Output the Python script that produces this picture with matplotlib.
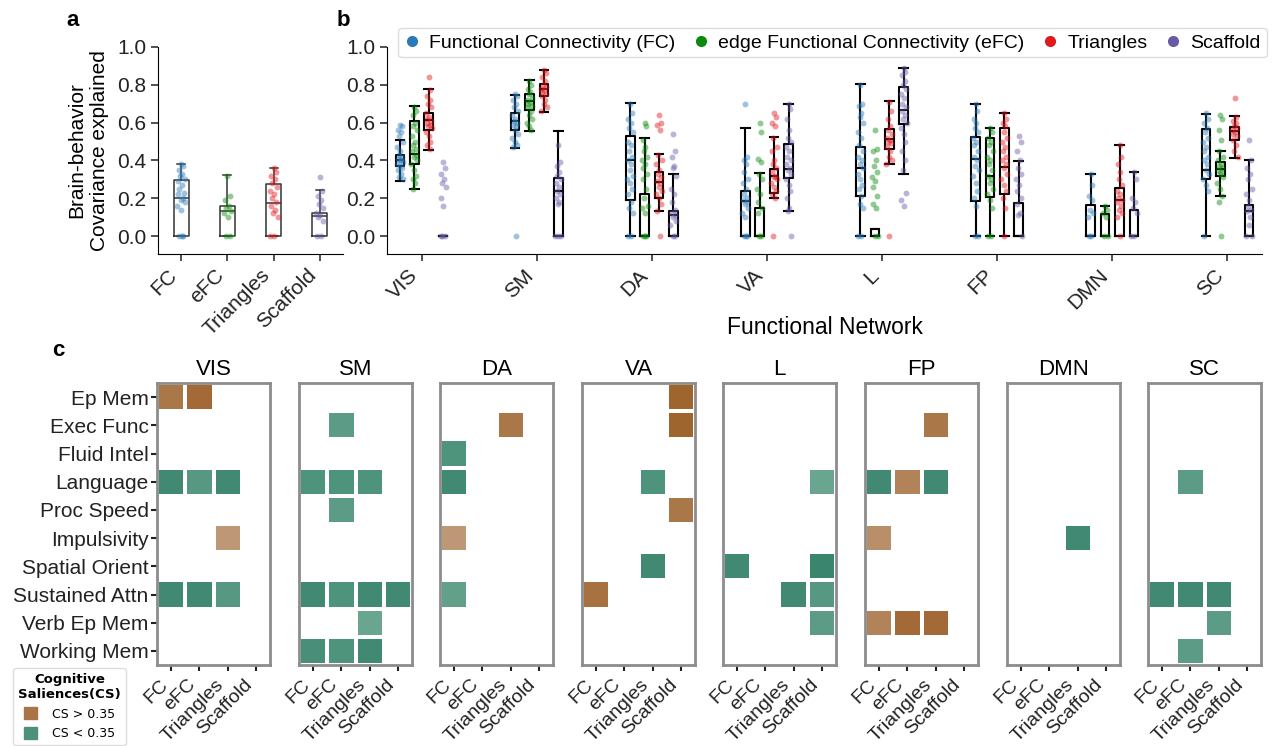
import numpy as np
import matplotlib
matplotlib.use("Agg")
import matplotlib.pyplot as plt
from matplotlib.colors import LinearSegmentedColormap
from matplotlib.patches import Patch
from matplotlib.lines import Line2D

plt.rcParams['font.family'] = ['Liberation Sans', 'DejaVu Sans']

# ---------------- data ----------------
methods = ["FC", "eFC", "Triangles", "Scaffold"]
method_names = ["Functional Connectivity (FC)", "edge Functional Connectivity (eFC)",
                "Triangles", "Scaffold"]
colors = ["#2a7ab9", "#0a8a0a", "#e0191f", "#6a5aa6"]
networks = ["VIS", "SM", "DA", "VA", "L", "FP", "DMN", "SC"]
behaviours = ["Ep Mem", "Exec Func", "Fluid Intel", "Language", "Proc Speed",
              "Impulsivity", "Spatial Orient", "Sustained Attn", "Verb Ep Mem", "Working Mem"]

# panel a: (whislo, q1, med, q3, whishi)
a_box = [(0.0, 0.0, 0.20, 0.297, 0.383),
         (0.0, 0.0, 0.133, 0.161, 0.323),
         (0.0, 0.0, 0.173, 0.276, 0.358),
         (0.0, 0.0, 0.108, 0.122, 0.243)]
a_pts = [[0.38, 0.37, 0.35, 0.33, 0.32, 0.30, 0.29, 0.27, 0.25, 0.23, 0.22, 0.20, 0.19, 0.18, 0.16, 0.14, 0, 0, 0],
         [0.32, 0.21, 0.19, 0.16, 0.15, 0.13, 0.12, 0.10, 0, 0],
         [0.36, 0.34, 0.32, 0.30, 0.28, 0.26, 0.24, 0.22, 0.20, 0.18, 0.16, 0.14, 0.12, 0.10, 0, 0],
         [0.31, 0.24, 0.21, 0.19, 0.17, 0.15, 0.12, 0.11, 0.10, 0.08, 0, 0]]

# panel b: one list per method, one entry per network
fc_box = [(0.29, 0.37, 0.40, 0.43, 0.51), (0.466, 0.559, 0.607, 0.651, 0.748),
          (0.0, 0.189, 0.40, 0.527, 0.705), (0.0, 0.0, 0.187, 0.238, 0.573),
          (0.0, 0.212, 0.36, 0.471, 0.802), (0.0, 0.184, 0.41, 0.526, 0.699),
          (0.0, 0.0, 0.0, 0.164, 0.33), (0.0, 0.30, 0.351, 0.564, 0.647)]
efc_box = [(0.249, 0.383, 0.432, 0.607, 0.686), (0.554, 0.665, 0.714, 0.751, 0.824),
           (0.0, 0.0, 0.0, 0.224, 0.518), (0.0, 0.0, 0.0, 0.15, 0.335),
           (0.0, 0.0, 0.0, 0.039, 0.039), (0.0, 0.205, 0.319, 0.52, 0.573),
           (0.0, 0.0, 0.0, 0.118, 0.159), (0.21, 0.317, 0.356, 0.392, 0.448)]
tri_box = [(0.453, 0.559, 0.612, 0.653, 0.776), (0.656, 0.739, 0.776, 0.804, 0.88),
           (0.134, 0.203, 0.286, 0.337, 0.432), (0.203, 0.229, 0.316, 0.356, 0.526),
           (0.379, 0.462, 0.511, 0.564, 0.714), (0.0, 0.225, 0.365, 0.572, 0.653),
           (0.0, 0.0, 0.192, 0.252, 0.481), (0.414, 0.506, 0.554, 0.577, 0.637)]
sca_box = [(0.0, 0.0, 0.0, 0.0, 0.0), (0.0, 0.0, 0.238, 0.309, 0.554),
           (0.0, 0.0, 0.113, 0.132, 0.326), (0.132, 0.307, 0.356, 0.485, 0.70),
           (0.326, 0.593, 0.667, 0.788, 0.89), (0.0, 0.0, 0.0, 0.175, 0.397),
           (0.0, 0.0, 0.0, 0.136, 0.34), (0.0, 0.0, 0.13, 0.166, 0.40)]

fc_pts = [[0.59, 0.58, 0.56, 0.55, 0.53, 0.50, 0.47, 0.45, 0.43, 0.42, 0.41, 0.40, 0.40, 0.39, 0.38, 0.37, 0.36, 0.35, 0.33, 0.31, 0.30],
          [0.75, 0.74, 0.72, 0.70, 0.68, 0.66, 0.64, 0.62, 0.61, 0.60, 0.59, 0.58, 0.56, 0.54, 0.52, 0.50, 0.48, 0.47, 0.0],
          [0.70, 0.65, 0.62, 0.60, 0.57, 0.55, 0.50, 0.48, 0.45, 0.42, 0.40, 0.38, 0.35, 0.32, 0.30, 0.28, 0.25, 0.22, 0.18, 0.15, 0.12, 0, 0],
          [0.70, 0.42, 0.40, 0.38, 0.34, 0.30, 0.28, 0.25, 0.22, 0.20, 0.19, 0.18, 0.17, 0.15, 0.12, 0.10, 0, 0, 0],
          [0.80, 0.70, 0.69, 0.65, 0.63, 0.60, 0.55, 0.52, 0.48, 0.45, 0.42, 0.40, 0.38, 0.36, 0.33, 0.30, 0.27, 0.25, 0.21, 0.17, 0.15, 0, 0],
          [0.70, 0.66, 0.62, 0.60, 0.57, 0.55, 0.52, 0.50, 0.48, 0.45, 0.42, 0.40, 0.37, 0.35, 0.32, 0.28, 0.24, 0.20, 0.16, 0, 0],
          [0.33, 0.27, 0.21, 0.19, 0.14, 0.12, 0.10, 0, 0],
          [0.65, 0.62, 0.60, 0.57, 0.55, 0.52, 0.50, 0.47, 0.45, 0.42, 0.40, 0.38, 0.35, 0.33, 0.30, 0.27, 0.24, 0]]
efc_pts = [[0.68, 0.66, 0.64, 0.60, 0.58, 0.56, 0.53, 0.50, 0.48, 0.46, 0.45, 0.43, 0.42, 0.40, 0.38, 0.35, 0.32, 0.30, 0.28, 0.25],
           [0.82, 0.80, 0.78, 0.76, 0.75, 0.73, 0.72, 0.71, 0.70, 0.69, 0.68, 0.66, 0.64, 0.62, 0.60, 0.58, 0.56],
           [0.60, 0.58, 0.51, 0.47, 0.45, 0.42, 0.40, 0.38, 0.36, 0.33, 0.30, 0.25, 0.20, 0.16, 0.15, 0.12, 0, 0, 0],
           [0.60, 0.55, 0.41, 0.39, 0.33, 0.30, 0.25, 0.22, 0.18, 0.15, 0.12, 0, 0],
           [0.56, 0.46, 0.45, 0.40, 0.37, 0.34, 0.31, 0.29, 0.26, 0.21, 0.17, 0.15, 0, 0],
           [0.57, 0.55, 0.52, 0.50, 0.48, 0.45, 0.42, 0.40, 0.38, 0.35, 0.32, 0.30, 0.28, 0.25, 0.22, 0.19, 0.15, 0, 0],
           [0.16, 0.14, 0.12, 0.10, 0, 0],
           [0.64, 0.62, 0.56, 0.51, 0.45, 0.42, 0.40, 0.38, 0.37, 0.36, 0.35, 0.34, 0.33, 0.31, 0.28, 0.25, 0.21, 0.18, 0]]
tri_pts = [[0.84, 0.77, 0.74, 0.72, 0.70, 0.68, 0.65, 0.63, 0.62, 0.61, 0.60, 0.59, 0.58, 0.57, 0.55, 0.53, 0.50, 0.48, 0.46],
           [0.88, 0.86, 0.84, 0.82, 0.80, 0.79, 0.78, 0.77, 0.76, 0.75, 0.74, 0.72, 0.70, 0.68, 0.66],
           [0.64, 0.60, 0.59, 0.56, 0.43, 0.40, 0.38, 0.35, 0.33, 0.31, 0.29, 0.28, 0.26, 0.24, 0.22, 0.20, 0.17, 0.13, 0],
           [0.65, 0.63, 0.60, 0.58, 0.52, 0.47, 0.45, 0.40, 0.38, 0.36, 0.34, 0.32, 0.31, 0.30, 0.28, 0.26, 0.24, 0.22, 0.20, 0],
           [0.71, 0.66, 0.62, 0.58, 0.56, 0.54, 0.52, 0.51, 0.50, 0.49, 0.47, 0.45, 0.42, 0.40, 0.38, 0],
           [0.65, 0.62, 0.60, 0.58, 0.55, 0.52, 0.50, 0.47, 0.45, 0.42, 0.40, 0.38, 0.36, 0.33, 0.30, 0.27, 0.24, 0.20, 0.15, 0],
           [0.48, 0.42, 0.38, 0.34, 0.30, 0.27, 0.24, 0.22, 0.20, 0.19, 0.18, 0.16, 0.14, 0.12, 0.10, 0],
           [0.73, 0.63, 0.61, 0.60, 0.58, 0.57, 0.56, 0.55, 0.54, 0.53, 0.51, 0.48, 0.45, 0.42]]
sca_pts = [[0.39, 0.36, 0.33, 0.30, 0.28, 0.26, 0.20, 0.16, 0, 0, 0],
           [0.48, 0.39, 0.37, 0.34, 0.32, 0.30, 0.28, 0.26, 0.24, 0.22, 0.20, 0.18, 0.17, 0, 0, 0],
           [0.54, 0.45, 0.42, 0.37, 0.36, 0.32, 0.25, 0.22, 0.18, 0.14, 0.12, 0.11, 0.10, 0.08, 0.06, 0, 0],
           [0.70, 0.67, 0.62, 0.56, 0.52, 0.50, 0.47, 0.45, 0.42, 0.40, 0.38, 0.36, 0.35, 0.33, 0.30, 0.27, 0.24, 0.20, 0.15, 0.13, 0],
           [0.89, 0.87, 0.85, 0.82, 0.80, 0.78, 0.75, 0.73, 0.70, 0.68, 0.66, 0.64, 0.62, 0.60, 0.57, 0.54, 0.50, 0.45, 0.40, 0.35, 0.23, 0.19, 0.16],
           [0.53, 0.50, 0.45, 0.40, 0.36, 0.33, 0.30, 0.27, 0.24, 0.20, 0.17, 0.12, 0.11, 0],
           [0.34, 0.30, 0.20, 0.18, 0.15, 0.12, 0, 0],
           [0.51, 0.40, 0.36, 0.33, 0.30, 0.25, 0.22, 0.19, 0.16, 0.14, 0.13, 0.10, 0.06, 0, 0]]

# panel c: cognitive saliences (>0 : CS > 0.35, <0 : CS < 0.35), rows = behaviours, cols = methods
cs_vis = [[0.8, 0.9, 0, 0], [0, 0, 0, 0], [0, 0, 0, 0], [-0.9, -0.75, -0.9, 0], [0, 0, 0, 0],
          [0, 0, 0.55, 0], [0, 0, 0, 0], [-0.9, -0.9, -0.75, 0], [0, 0, 0, 0], [0, 0, 0, 0]]
cs_sm = [[0, 0, 0, 0], [0, -0.7, 0, 0], [0, 0, 0, 0], [-0.8, -0.8, -0.8, 0], [0, -0.7, 0, 0],
         [0, 0, 0, 0], [0, 0, 0, 0], [-0.9, -0.8, -0.9, -0.9], [0, 0, -0.6, 0], [-0.85, -0.8, -0.9, 0]]
cs_da = [[0, 0, 0, 0], [0, 0, 0.8, 0], [-0.8, 0, 0, 0], [-0.9, 0, 0, 0], [0, 0, 0, 0],
         [0.55, 0, 0, 0], [0, 0, 0, 0], [-0.65, 0, 0, 0], [0, 0, 0, 0], [0, 0, 0, 0]]
cs_va = [[0, 0, 0, 0.95], [0, 0, 0, 0.95], [0, 0, 0, 0], [0, 0, -0.8, 0], [0, 0, 0, 0.8],
         [0, 0, 0, 0], [0, 0, -0.9, 0], [0.85, 0, 0, 0], [0, 0, 0, 0], [0, 0, 0, 0]]
cs_l = [[0, 0, 0, 0], [0, 0, 0, 0], [0, 0, 0, 0], [0, 0, 0, -0.6], [0, 0, 0, 0],
        [0, 0, 0, 0], [-0.9, 0, 0, -0.95], [0, 0, -0.9, -0.75], [0, 0, 0, -0.7], [0, 0, 0, 0]]
cs_fp = [[0, 0, 0, 0], [0, 0, 0.8, 0], [0, 0, 0, 0], [-0.9, 0.7, -0.9, 0], [0, 0, 0, 0],
         [0.6, 0, 0, 0], [0, 0, 0, 0], [0, 0, 0, 0], [0.7, 0.9, 0.9, 0], [0, 0, 0, 0]]
cs_dmn = [[0, 0, 0, 0], [0, 0, 0, 0], [0, 0, 0, 0], [0, 0, 0, 0], [0, 0, 0, 0],
          [0, 0, -0.9, 0], [0, 0, 0, 0], [0, 0, 0, 0], [0, 0, 0, 0], [0, 0, 0, 0]]
cs_sc = [[0, 0, 0, 0], [0, 0, 0, 0], [0, 0, 0, 0], [0, -0.7, 0, 0], [0, 0, 0, 0],
         [0, 0, 0, 0], [0, 0, 0, 0], [-0.9, -0.9, -0.9, 0], [0, 0, -0.7, 0], [0, -0.7, 0, 0]]
cs_all = [cs_vis, cs_sm, cs_da, cs_va, cs_l, cs_fp, cs_dmn, cs_sc]

# fixed jitter pattern (fraction of half box width)
JIT = [0.0, 0.5, -0.5, 0.25, -0.25, 0.75, -0.75, 0.1, -0.4, 0.6, -0.6, 0.35, -0.1, 0.85, -0.85]


def to_stats(box):
    lo, q1, med, q3, hi = box
    return dict(whislo=lo, q1=q1, med=med, q3=q3, whishi=hi, fliers=[])


def strip(ax, x, vals, half, color):
    xs = [x + JIT[i % len(JIT)] * half for i in range(len(vals))]
    ax.scatter(xs, vals, s=18, color=color, alpha=0.45, linewidths=0, zorder=3)


fig = plt.figure(figsize=(12.78, 7.46), dpi=100)
W, H = 1278, 746


def fax(x0, y0, x1, y1):
    return fig.add_axes([x0 / W, 1 - y1 / H, (x1 - x0) / W, (y1 - y0) / H])


# ---------------- panel a ----------------
ax_a = fax(158, 47, 343, 254)
ax_a.bxp([to_stats(b) for b in a_box], positions=range(4), widths=0.32, capwidths=0.17,
         showfliers=False,
         boxprops=dict(color="#333333", lw=1.1), whiskerprops=dict(color="#333333", lw=1.1),
         capprops=dict(color="#333333", lw=1.1), medianprops=dict(color="#333333", lw=1.1))
for i in range(4):
    strip(ax_a, i, a_pts[i], 0.1, colors[i])
ax_a.set_xlim(-0.5, 3.5)
ax_a.set_ylim(-0.095, 1.0)
ax_a.set_yticks(np.arange(0, 1.01, 0.2))
ax_a.set_yticklabels([f"{v:.1f}" for v in np.arange(0, 1.01, 0.2)], fontsize=15)
ax_a.set_xticks(range(4))
ax_a.set_xticklabels(methods, rotation=45, ha="right", fontsize=15)
ax_a.set_ylabel("Brain-behavior\nCovariance explained", fontsize=15, labelpad=6)
for s in ["top", "right"]:
    ax_a.spines[s].set_visible(False)
ax_a.tick_params(length=5, width=1.1, colors="#222222")

# ---------------- panel b ----------------
ax_b = fax(387, 47, 1262, 254)
offs = [-0.1875, -0.0625, 0.0625, 0.1875]
all_box = [fc_box, efc_box, tri_box, sca_box]
all_pts = [fc_pts, efc_pts, tri_pts, sca_pts]
for m in range(4):
    pos = [n + offs[m] for n in range(8)]
    ax_b.bxp([to_stats(b) for b in all_box[m]], positions=pos, widths=0.075, capwidths=0.075,
             showfliers=False, manage_ticks=False,
             boxprops=dict(color="black", lw=1.5), whiskerprops=dict(color="black", lw=1.5),
             capprops=dict(color="black", lw=1.5), medianprops=dict(color="black", lw=1.5))
    for n in range(8):
        strip(ax_b, pos[n], all_pts[m][n], 0.03, colors[m])
ax_b.set_xlim(-0.3, 7.3)
ax_b.set_ylim(-0.095, 1.0)
ax_b.set_yticks(np.arange(0, 1.01, 0.2))
ax_b.set_yticklabels([f"{v:.1f}" for v in np.arange(0, 1.01, 0.2)], fontsize=15)
ax_b.set_xticks(range(8))
ax_b.set_xticklabels(networks, rotation=45, ha="right", fontsize=15)
ax_b.set_xlabel("Functional Network", fontsize=16.5, labelpad=2)
for s in ["top", "right"]:
    ax_b.spines[s].set_visible(False)
ax_b.tick_params(length=5, width=1.1, colors="#222222")
handles = [Line2D([], [], marker="o", ls="", color=c, markersize=7) for c in colors]
ax_b.legend(handles, method_names, loc="center", bbox_to_anchor=(0.509, 1.02), ncol=4,
            fontsize=14, handlelength=0.8, handletextpad=0.5, columnspacing=0.9,
            borderpad=0.3, borderaxespad=0,
            frameon=True, edgecolor="#dddddd", framealpha=1)

# ---------------- panel c ----------------
cmap = LinearSegmentedColormap.from_list(
    "cs", [(0.0, "#34816a"), (0.2, "#6aa58f"), (0.5, "white"), (0.8, "#b98f6a"), (1.0, "#9c5f27")])
lefts = [157, 299, 440, 582, 723, 865, 1007, 1148]
for k, net in enumerate(networks):
    ax = fax(lefts[k], 383, lefts[k] + 113, 665)
    vals = np.array(cs_all[k], dtype=float)
    vals = np.ma.masked_where(vals == 0, vals)
    ax.pcolormesh(np.arange(5), np.arange(11), vals, cmap=cmap, vmin=-1, vmax=1,
                  edgecolors="white", linewidth=1.5)
    ax.set_xlim(0, 4)
    ax.set_ylim(10, 0)
    ax.set_title(net, fontsize=16, pad=6)
    for s in ax.spines.values():
        s.set_color("#8c8c8c")
        s.set_linewidth(2)
    ax.set_xticks(np.arange(4) + 0.5)
    ax.set_xticklabels(methods, rotation=45, ha="right", fontsize=14)
    ax.tick_params(axis="x", length=4, width=1.5, colors="#222222", pad=4)
    if k == 0:
        ax.set_yticks(np.arange(10) + 0.5)
        ax.set_yticklabels(behaviours, fontsize=15)
        ax.tick_params(axis="y", length=4, width=1.5, colors="#222222", pad=2)
    else:
        ax.set_yticks([])

leg_handles = [Patch(color="#a97447"), Patch(color="#4f9079")]
leg = fig.legend(leg_handles, ["CS > 0.35", "CS < 0.35"], loc="upper left",
                 bbox_to_anchor=(13 / W, 1 - 668 / H),
                 title="Cognitive\nSaliences(CS)",
                 title_fontproperties=dict(family="DejaVu Sans", weight="bold", size=9.5),
                 prop=dict(family="DejaVu Sans", size=9), handlelength=1.0, handleheight=1.1,
                 handletextpad=1.2, borderaxespad=0,
                 edgecolor="#dddddd", framealpha=1)
leg.get_title().set_multialignment("center")

# panel letters
fig.text(66 / W, 1 - 20 / H, "a", fontsize=16, weight="bold", va="center")
fig.text(337 / W, 1 - 20 / H, "b", fontsize=16, weight="bold", va="center")
fig.text(52 / W, 1 - 350 / H, "c", fontsize=16, weight="bold", va="center")

fig.savefig("out.png", dpi=100)
